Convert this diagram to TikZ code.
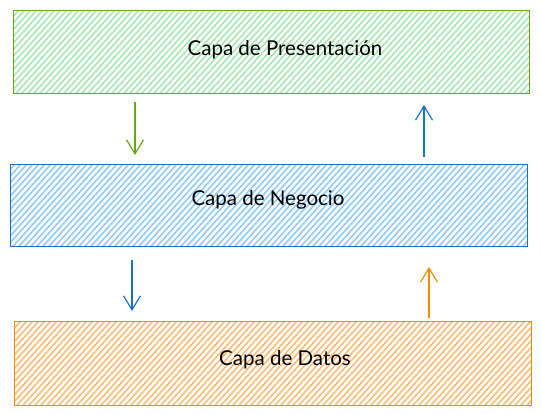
\documentclass[tikz,border=0pt]{standalone}
\usepackage{fontspec}
\setmainfont{Lato}
\usetikzlibrary{arrows.meta}
\definecolor{gstroke}{HTML}{66A80F}
\definecolor{gfill}{HTML}{A3E6AE}
\definecolor{bstroke}{HTML}{1971C2}
\definecolor{bfill}{HTML}{8CC8F8}
\definecolor{ostroke}{HTML}{F08C00}
\definecolor{ofill}{HTML}{FFB870}
\tikzset{
  layer/.style={draw=#1stroke, line width=1.3pt, rectangle, anchor=north west, inner sep=0pt,
    path picture={\foreach \i in {-100,-94,...,540}
      \draw[#1fill, line width=1.5pt] ([xshift=\i pt]path picture bounding box.south west) -- ++(90,-100);}},
  label text/.style={font=\fontsize{20.5}{24}\selectfont, text=black},
  flow/.style={draw=#1stroke, line width=1.2pt, -{Straight Barb[length=14pt,width=17pt,line width=1.2pt]}},
}
\begin{document}
\begin{tikzpicture}[x=1pt,y=-1pt]
\useasboundingbox (0,0) rectangle (541,414);
\node[layer=g, minimum width=516pt, minimum height=83pt] (pres) at (13,10) {};
\node[layer=b, minimum width=517pt, minimum height=82pt] (neg) at (10,164) {};
\node[layer=o, minimum width=517pt, minimum height=84pt] (dat) at (14,321) {};
\node[label text] (tpres) at (285,50) {Capa de Presentación};
\node[label text] (tneg) at (268,200) {Capa de Negocio};
\node[label text] (tdat) at (285,360) {Capa de Datos};
\coordinate (a1s) at (135,102); \coordinate (a1e) at (135,155);
\coordinate (a2s) at (424,157); \coordinate (a2e) at (424,105);
\coordinate (a3s) at (132,260); \coordinate (a3e) at (132,311);
\coordinate (a4s) at (429,318); \coordinate (a4e) at (429,267);
\draw[flow=g] (a1s) -- (a1e);
\draw[flow=b] (a2s) -- (a2e);
\draw[flow=b] (a3s) -- (a3e);
\draw[flow=o] (a4s) -- (a4e);
\end{tikzpicture}
\end{document}
